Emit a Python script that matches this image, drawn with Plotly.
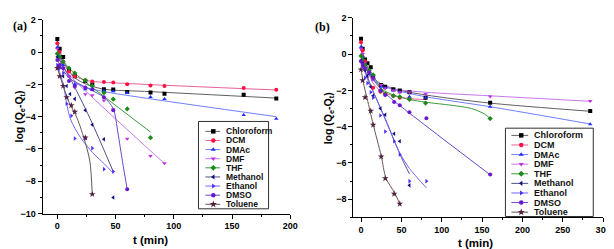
import plotly.graph_objects as go

W, H = 614, 249

names = ["Chloroform", "DCM", "DMAc", "DMF", "THF", "Methanol", "Ethanol", "DMSO", "Toluene"]
symbols = ["square", "circle", "triangle-up", "triangle-down", "diamond", "triangle-left", "triangle-right", "circle", "star"]
marker_colors = ["#000000", "#ff1040", "#1f2fff", "#c030e0", "#1a8a1a", "#10107a", "#4a30f0", "#6a18d0", "#502040"]
line_colors = ["#606060", "#e8609a", "#6f7fff", "#c878f0", "#3a9a3a", "#505088", "#7466ff", "#6848c8", "#6a5454"]

# ---------------- panel (a) data ----------------
a_chloroform_t = [0, 2, 5, 10, 15, 24, 30, 40, 48, 60, 80, 92, 160, 188]
a_chloroform_y = [0.8, 0.2, -0.3, -1.1, -1.5, -1.8, -2.0, -2.3, -2.32, -2.48, -2.5, -2.58, -2.64, -2.88]
a_dcm_t = [0, 2, 5, 10, 15, 24, 30, 40, 48, 60, 80, 92, 160, 188]
a_dcm_y = [0.55, 0.0, -0.6, -1.2, -1.5, -1.75, -1.82, -1.85, -1.89, -1.99, -2.07, -2.1, -2.22, -2.34]
a_dmac_t = [0, 2, 5, 10, 15, 24, 30, 40, 48, 60, 80, 92, 160, 188]
a_dmac_y = [0.3, -0.3, -0.8, -1.5, -2.0, -2.3, -2.35, -2.4, -2.42, -2.54, -2.78, -2.9, -3.89, -4.13]
a_dmf_t = [0, 2, 5, 10, 15, 24, 30, 40, 48, 60, 80, 92]
a_dmf_y = [0.2, -0.4, -1.0, -1.5, -2.2, -2.62, -2.68, -3.0, -3.55, -5.36, -6.43, -6.89]
a_thf_t = [0, 2, 5, 10, 15, 24, 30, 40, 48, 60, 80]
a_thf_y = [-0.1, -0.3, -0.6, -1.0, -1.3, -1.75, -2.1, -2.52, -2.92, -3.52, -5.3]
a_methanol_t = [0, 2, 5, 8, 11, 15, 24, 30, 40, 48]
a_methanol_y = [-0.3, -0.9, -1.5, -2.1, -2.6, -2.9, -3.6, -4.5, -5.4, -9.0]
a_ethanol_t = [0, 2, 5, 8, 12, 15, 24, 30, 40, 48]
a_ethanol_y = [-0.8, -1.0, -1.3, -3.2, -3.95, -5.35, -5.35, -5.95, -7.25, -7.4]
a_dmso_t = [0, 2, 5, 10, 15, 24, 30, 40, 48, 60]
a_dmso_y = [-0.5, -0.8, -1.0, -1.8, -2.1, -2.2, -2.3, -2.8, -3.6, -8.5]
a_toluene_t = [0, 2, 5, 8, 12, 15, 24, 30]
a_toluene_y = [-1.0, -1.5, -2.1, -2.8, -3.3, -3.7, -5.3, -8.8]

# fitted curves (a)
a_fit_chloroform_t = [0, 2, 5, 10, 15, 25, 40, 80, 188]
a_fit_chloroform_y = [0.7, 0.1, -0.5, -1.2, -1.6, -2.0, -2.3, -2.45, -2.85]
a_fit_dcm_t = [0, 2, 5, 10, 15, 25, 30, 60, 188]
a_fit_dcm_y = [0.5, -0.1, -0.7, -1.2, -1.5, -1.75, -1.82, -1.95, -2.35]
a_fit_dmac_t = [0, 2, 5, 10, 15, 25, 40, 188]
a_fit_dmac_y = [0.2, -0.3, -0.9, -1.5, -1.9, -2.2, -2.45, -4.0]
a_fit_dmf_t = [0, 5, 10, 92]
a_fit_dmf_y = [0.1, -0.9, -1.4, -6.9]
a_fit_thf_t = [0, 5, 10, 80]
a_fit_thf_y = [-0.1, -0.55, -1.0, -4.95]
a_fit_methanol_t = [0, 10, 28, 48]
a_fit_methanol_y = [-0.3, -1.5, -4.1, -7.4]
a_fit_ethanol_t = [0, 5, 11, 20, 30, 40, 48]
a_fit_ethanol_y = [-0.8, -2.0, -4.1, -5.3, -6.2, -6.9, -7.5]
a_fit_dmso_t = [0, 10, 25, 40, 48, 52, 56, 60]
a_fit_dmso_y = [-0.5, -1.6, -2.2, -2.8, -3.5, -5.0, -6.8, -8.5]
a_fit_toluene_t = [0, 5, 10, 17, 24, 28, 30]
a_fit_toluene_y = [-1.0, -2.1, -3.1, -4.1, -5.6, -6.8, -8.8]

# ---------------- panel (b) data ----------------
b_chloroform_t = [0, 2, 5, 8, 12, 15, 25, 30, 40, 48, 60, 80, 160, 284]
b_chloroform_y = [0.85, 0.3, -0.3, -0.5, -0.72, -1.2, -1.7, -1.8, -1.94, -2.0, -2.1, -2.4, -2.68, -3.13]
b_dcm_t = [0, 2, 5, 10, 15, 24, 30, 40, 48, 60]
b_dcm_y = [0.65, 0.2, -0.4, -1.0, -1.85, -2.08, -2.2, -2.3, -2.4, -2.45]
b_dmac_t = [0, 2, 5, 10, 15, 25, 30, 40, 48, 60, 80, 160, 284]
b_dmac_y = [0.4, -0.1, -0.6, -1.1, -1.4, -1.8, -1.85, -2.0, -2.1, -2.35, -2.4, -2.9, -3.87]
b_dmf_t = [0, 2, 5, 10, 15, 25, 30, 40, 48, 60, 80, 160, 284]
b_dmf_y = [0.3, 0.0, -0.5, -1.0, -1.4, -1.7, -1.9, -2.0, -2.1, -2.1, -2.2, -2.33, -2.58]
b_thf_t = [0, 2, 5, 10, 15, 25, 30, 40, 48, 60, 80, 160]
b_thf_y = [-0.1, -0.3, -0.6, -0.9, -1.15, -2.0, -2.2, -2.3, -2.35, -2.5, -2.7, -3.55]
b_methanol_t = [0, 2, 5, 8, 12, 15, 24, 30, 41, 48, 60]
b_methanol_y = [-0.35, -0.5, -0.9, -1.2, -1.8, -2.3, -3.0, -3.34, -4.39, -4.8, -7.23]
b_ethanol_t = [0, 2, 5, 8, 12, 15, 24, 30, 41, 48, 60, 81]
b_ethanol_y = [-0.4, -0.7, -1.3, -1.6, -2.1, -2.4, -3.38, -4.27, -4.8, -5.53, -7.0, -7.0]
b_dmso_t = [0, 2, 5, 10, 15, 24, 30, 41, 48, 60, 81, 160]
b_dmso_y = [-0.4, -0.6, -0.8, -1.0, -1.3, -2.0, -2.25, -2.64, -2.82, -3.2, -3.53, -6.63]
b_toluene_t = [0, 2, 5, 12, 15, 25, 30, 41, 48]
b_toluene_y = [-0.85, -1.45, -2.38, -3.13, -3.9, -5.65, -6.85, -7.7, -8.25]

# fitted curves (b)
b_fit_chloroform_t = [0, 2, 5, 10, 20, 40, 80, 160, 284]
b_fit_chloroform_y = [0.75, 0.1, -0.4, -0.9, -1.5, -1.9, -2.25, -2.7, -3.15]
b_fit_dcm_t = [0, 2, 5, 10, 15, 25, 40, 60, 80]
b_fit_dcm_y = [0.6, 0.1, -0.5, -1.1, -1.6, -2.05, -2.3, -2.45, -2.5]
b_fit_dmac_t = [0, 2, 5, 10, 20, 40, 80, 160, 284]
b_fit_dmac_y = [0.3, -0.2, -0.6, -1.1, -1.6, -1.95, -2.35, -2.9, -3.85]
b_fit_dmf_t = [0, 2, 5, 10, 20, 40, 80, 160, 284]
b_fit_dmf_y = [0.25, -0.1, -0.5, -0.95, -1.5, -1.9, -2.1, -2.3, -2.6]
b_fit_thf_t = [0, 5, 10, 15, 25, 40, 60, 80, 112, 137, 153, 160]
b_fit_thf_y = [-0.1, -0.5, -0.85, -1.15, -1.9, -2.25, -2.5, -2.65, -2.82, -3.0, -3.3, -3.55]
b_fit_methanol_t = [0, 5, 10, 19, 30, 41, 50, 60]
b_fit_methanol_y = [-0.35, -0.9, -1.5, -2.47, -3.55, -4.75, -5.7, -6.6]
b_fit_ethanol_t = [0, 5, 10, 19, 30, 48, 60, 81]
b_fit_ethanol_y = [-0.4, -1.0, -1.6, -2.45, -3.6, -5.45, -6.3, -7.37]
b_fit_dmso_t = [0, 5, 10, 25, 40, 160]
b_fit_dmso_y = [-0.4, -0.75, -1.1, -1.95, -2.55, -6.65]
b_fit_toluene_t = [0, 3, 7.7, 15, 25, 31, 41.5, 48]
b_fit_toluene_y = [-0.8, -1.6, -2.47, -3.87, -5.6, -6.85, -7.63, -8.25]

points_a = [(a_chloroform_t, a_chloroform_y), (a_dcm_t, a_dcm_y), (a_dmac_t, a_dmac_y),
            (a_dmf_t, a_dmf_y), (a_thf_t, a_thf_y), (a_methanol_t, a_methanol_y),
            (a_ethanol_t, a_ethanol_y), (a_dmso_t, a_dmso_y), (a_toluene_t, a_toluene_y)]
fits_a = [(a_fit_chloroform_t, a_fit_chloroform_y), (a_fit_dcm_t, a_fit_dcm_y), (a_fit_dmac_t, a_fit_dmac_y),
          (a_fit_dmf_t, a_fit_dmf_y), (a_fit_thf_t, a_fit_thf_y), (a_fit_methanol_t, a_fit_methanol_y),
          (a_fit_ethanol_t, a_fit_ethanol_y), (a_fit_dmso_t, a_fit_dmso_y), (a_fit_toluene_t, a_fit_toluene_y)]
points_b = [(b_chloroform_t, b_chloroform_y), (b_dcm_t, b_dcm_y), (b_dmac_t, b_dmac_y),
            (b_dmf_t, b_dmf_y), (b_thf_t, b_thf_y), (b_methanol_t, b_methanol_y),
            (b_ethanol_t, b_ethanol_y), (b_dmso_t, b_dmso_y), (b_toluene_t, b_toluene_y)]
fits_b = [(b_fit_chloroform_t, b_fit_chloroform_y), (b_fit_dcm_t, b_fit_dcm_y), (b_fit_dmac_t, b_fit_dmac_y),
          (b_fit_dmf_t, b_fit_dmf_y), (b_fit_thf_t, b_fit_thf_y), (b_fit_methanol_t, b_fit_methanol_y),
          (b_fit_ethanol_t, b_fit_ethanol_y), (b_fit_dmso_t, b_fit_dmso_y), (b_fit_toluene_t, b_fit_toluene_y)]

FONT = "Liberation Sans, Arial, sans-serif"
fig = go.Figure()


def msize(sym):
    return 5 if sym == "star" else 4


for (pts, fits, xa, ya) in [(points_a, fits_a, "x", "y"), (points_b, fits_b, "x2", "y2")]:
    for i in range(len(names)):
        ft, fy = fits[i]
        fig.add_trace(go.Scatter(x=ft, y=fy, mode="lines",
                                 line=dict(color=line_colors[i], width=1, shape="spline", smoothing=0.8),
                                 xaxis=xa, yaxis=ya, showlegend=False, hoverinfo="skip"))
    for i in range(len(names)):
        pt, py = pts[i]
        fig.add_trace(go.Scatter(x=pt, y=py, mode="markers", name=names[i],
                                 marker=dict(symbol=symbols[i], size=msize(symbols[i]), color=marker_colors[i],
                                             line=dict(width=0)),
                                 xaxis=xa, yaxis=ya, showlegend=False))

# ---- compact legends drawn in a pixel overlay axis ----
legend_specs = [
    dict(box=(193, 113, 264, 204), y0=123.3, dy=9.5, l0=200, l1=215, m=208, tx=219, fs=8.5),
    dict(box=(504, 120, 593, 212), y0=127.5, dy=10.0, l0=510, l1=527, m=520, tx=531, fs=9),
]
shapes = []
annotations = []
for spec in legend_specs:
    x0, y0b, x1, y1b = spec["box"]
    shapes.append(dict(type="rect", xref="x3", yref="y3", x0=x0, x1=x1, y0=y0b, y1=y1b,
                       line=dict(color="#303030", width=1), fillcolor="white", layer="below"))
for spec in legend_specs:
    for i, nm in enumerate(names):
        yy = spec["y0"] + i * spec["dy"]
        fig.add_trace(go.Scatter(x=[spec["l0"], spec["l1"]], y=[yy, yy], mode="lines",
                                 line=dict(color=line_colors[i], width=1), xaxis="x3", yaxis="y3",
                                 showlegend=False, hoverinfo="skip"))
        fig.add_trace(go.Scatter(x=[spec["m"]], y=[yy], mode="markers",
                                 marker=dict(symbol=symbols[i], size=msize(symbols[i]) + 0.5, color=marker_colors[i],
                                             line=dict(width=0)),
                                 xaxis="x3", yaxis="y3", showlegend=False, hoverinfo="skip"))
        annotations.append(dict(xref="x3", yref="y3", x=spec["tx"], y=yy, text="<b>%s</b>" % nm, showarrow=False,
                                xanchor="left", yanchor="middle",
                                font=dict(family=FONT, size=spec["fs"], color="#111")))

# panel labels and axis titles
annotations.append(dict(xref="x3", yref="y3", x=3, y=14, text="<b>(a)</b>", showarrow=False, xanchor="left",
                        yanchor="middle", font=dict(family="Liberation Serif, Times New Roman, serif", size=12,
                                                    color="black")))
annotations.append(dict(xref="x3", yref="y3", x=309, y=15, text="<b>(b)</b>", showarrow=False, xanchor="left",
                        yanchor="middle", font=dict(family="Liberation Serif, Times New Roman, serif", size=12,
                                                    color="black")))
ytitle = "<b>log (Q<sub>e</sub>-Q<sub>t</sub>)</b>"
annotations.append(dict(xref="x3", yref="y3", x=12, y=108, text=ytitle, showarrow=False, textangle=-90,
                        xanchor="center", yanchor="middle", font=dict(family=FONT, size=10.5, color="black")))
annotations.append(dict(xref="x3", yref="y3", x=325, y=110, text=ytitle, showarrow=False, textangle=-90,
                        xanchor="center", yanchor="middle", font=dict(family=FONT, size=10.5, color="black")))
annotations.append(dict(xref="x3", yref="y3", x=144, y=236, text="<b>t (min)</b>", showarrow=False,
                        xanchor="center", yanchor="middle", font=dict(family=FONT, size=11.5, color="black")))
annotations.append(dict(xref="x3", yref="y3", x=474, y=240, text="<b>t (min)</b>", showarrow=False,
                        xanchor="center", yanchor="middle", font=dict(family=FONT, size=11.5, color="black")))

axis_common = dict(showgrid=False, zeroline=False, showline=True, linecolor="black", linewidth=1,
                   ticks="outside", ticklen=4, tickwidth=1, tickcolor="black",
                   tickfont=dict(family=FONT, size=9, color="black", weight="bold"))
minor = dict(ticks="outside", ticklen=2, tickwidth=1, tickcolor="black", showgrid=False)

fig.update_layout(
    width=W, height=H, margin=dict(l=0, r=0, t=0, b=0),
    paper_bgcolor="white", plot_bgcolor="rgba(0,0,0,0)",
    showlegend=False,
    xaxis=dict(domain=[35 / W, 286 / W], range=[-12.7, 200], tickvals=[0, 50, 100, 150, 200],
               minor=dict(dtick=25, **minor), anchor="y", **axis_common),
    yaxis=dict(domain=[(H - 209) / H, (H - 7) / H], range=[-10, 2], tickvals=[-10, -8, -6, -4, -2, 0, 2],
               minor=dict(dtick=1, **minor), anchor="x", **axis_common),
    xaxis2=dict(domain=[350 / W, 603 / W], range=[-9.4, 300], tickvals=[0, 50, 100, 150, 200, 250, 300],
                minor=dict(dtick=25, **minor), anchor="y2", **axis_common),
    yaxis2=dict(domain=[(H - 213) / H, (H - 5) / H], range=[-9, 2], tickvals=[-8, -6, -4, -2, 0, 2],
                minor=dict(dtick=1, **minor), anchor="x2", **axis_common),
    xaxis3=dict(domain=[0, 1], range=[0, W], visible=False, anchor="y3", fixedrange=True),
    yaxis3=dict(domain=[0, 1], range=[H, 0], visible=False, anchor="x3", fixedrange=True),
    shapes=shapes, annotations=annotations,
)

fig.write_html("out.html")
